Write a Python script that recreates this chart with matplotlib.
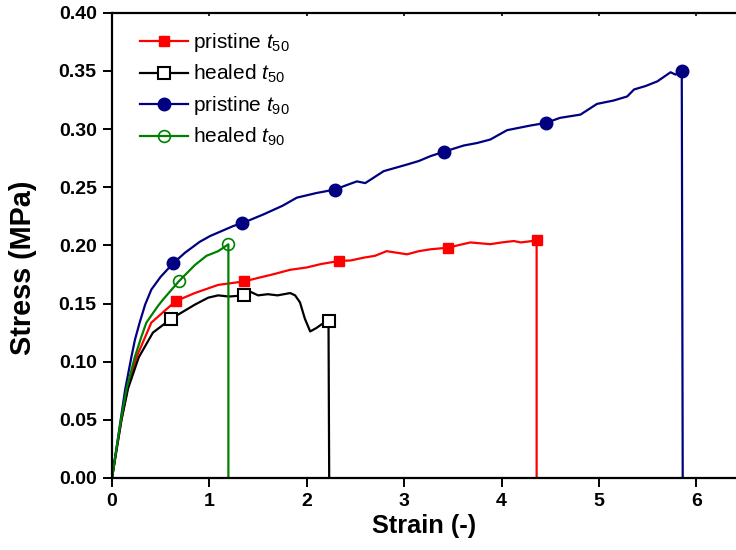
import matplotlib
matplotlib.use("Agg")
import matplotlib.pyplot as plt

plt.rcParams['font.family'] = ['Liberation Sans', 'DejaVu Sans']
plt.rcParams['mathtext.fontset'] = 'custom'
plt.rcParams['mathtext.rm'] = 'Liberation Sans'
plt.rcParams['mathtext.it'] = 'Liberation Sans:italic'

# pristine t50 (red)
p50_strain = [0, 0.048, 0.097, 0.16, 0.25, 0.404, 0.558, 0.654, 0.85, 1.09, 1.357, 1.5,
              1.65, 1.83, 2.0, 2.15, 2.333, 2.45, 2.583, 2.7, 2.82, 3.03, 3.15, 3.27, 3.45,
              3.55, 3.68, 3.885, 4.0, 4.125, 4.2, 4.31, 4.36, 4.36]
p50_stress = [0, 0.025, 0.05, 0.077, 0.1036, 0.1336, 0.145, 0.152, 0.159, 0.166, 0.169,
              0.172, 0.175, 0.179, 0.181, 0.184, 0.1866, 0.187, 0.1894, 0.191, 0.195,
              0.1923, 0.195, 0.1966, 0.198, 0.200, 0.2025, 0.201, 0.2025, 0.2037, 0.2025,
              0.2037, 0.205, 0.0]
p50_marks = [7, 10, 16, 24, 32]

# healed t50 (black)
h50_strain = [0, 0.048, 0.097, 0.165, 0.274, 0.42, 0.61, 0.85, 0.987, 1.09, 1.2, 1.36,
              1.38, 1.5, 1.6, 1.7, 1.83, 1.88, 1.93, 1.98, 2.035, 2.1, 2.15, 2.223, 2.23]
h50_stress = [0, 0.025, 0.05, 0.077, 0.1036, 0.125, 0.137, 0.149, 0.155, 0.157, 0.156,
              0.157, 0.1617, 0.157, 0.158, 0.157, 0.159, 0.157, 0.151, 0.137, 0.126,
              0.129, 0.132, 0.135, 0.0]
h50_marks = [6, 11, 23]

# pristine t90 (blue)
p90_strain = [0, 0.045, 0.089, 0.135, 0.198, 0.236, 0.284, 0.34, 0.404, 0.5, 0.627, 0.75,
              0.90, 1.007, 1.245, 1.336, 1.555, 1.75, 1.898, 2.10, 2.29, 2.40, 2.515, 2.60,
              2.79, 3.03, 3.15, 3.27, 3.405, 3.61, 3.75, 3.885, 4.056, 4.296, 4.457, 4.60,
              4.81, 4.98, 5.15, 5.29, 5.36, 5.48, 5.60, 5.735, 5.786, 5.85, 5.86]
p90_stress = [0, 0.025, 0.05, 0.076, 0.1036, 0.119, 0.1336, 0.149, 0.162, 0.173, 0.1845,
              0.1937, 0.203, 0.208, 0.2166, 0.219, 0.2266, 0.234, 0.241, 0.245, 0.248,
              0.2515, 0.255, 0.2535, 0.2638, 0.2695, 0.2725, 0.2767, 0.2804, 0.2858, 0.288,
              0.291, 0.299, 0.303, 0.3053, 0.3096, 0.3124, 0.3216, 0.3245, 0.328, 0.334,
              0.337, 0.341, 0.3488, 0.3468, 0.350, 0.0]
p90_marks = [10, 15, 20, 28, 34, 45]

# healed t90 (green)
h90_strain = [0, 0.045, 0.092, 0.15, 0.233, 0.30, 0.353, 0.473, 0.52, 0.685, 0.85, 0.97,
              1.09, 1.195, 1.195]
h90_stress = [0, 0.025, 0.05, 0.077, 0.1036, 0.121, 0.1336, 0.148, 0.153, 0.169, 0.183,
              0.191, 0.195, 0.2009, 0.0]
h90_marks = [9, 13]

fig = plt.figure(figsize=(7.36, 5.5), dpi=100)
ax = fig.add_axes([112 / 736, 72 / 550, 1 - 112 / 736, (478 - 12.7) / 550])

lw = 1.6
ax.plot(p50_strain, p50_stress, '-s', color='#ff0000', lw=lw, ms=7, markevery=p50_marks,
        label='pristine $t_{50}$')
ax.plot(h50_strain, h50_stress, '-s', color='black', lw=lw, ms=8, mfc='white', mew=1.5,
        markevery=h50_marks, label='healed $t_{50}$')
ax.plot(p90_strain, p90_stress, '-o', color='#000080', lw=lw, ms=9, markevery=p90_marks,
        label='pristine $t_{90}$')
ax.plot(h90_strain, h90_stress, '-o', color='#008000', lw=lw, ms=8.5, mfc='none', mew=1.2,
        markevery=h90_marks, label='healed $t_{90}$')

ax.set_xlim(0, 6.407)
ax.set_ylim(0, 0.40)
ax.set_xticks(range(7))
ax.set_yticks([i * 0.05 for i in range(9)])
ax.set_yticklabels([f"{i * 0.05:.2f}" for i in range(9)])

ax.spines['right'].set_visible(False)
for s in ['left', 'bottom', 'top']:
    ax.spines[s].set_linewidth(1.6)

ax.tick_params(axis='both', direction='out', length=6.5, width=1.4, labelsize=14)
ax.tick_params(axis='y', pad=4.5)
ax.tick_params(axis='x', pad=4)
for lab in ax.get_xticklabels() + ax.get_yticklabels():
    lab.set_fontweight('bold')

# tiny mirror ticks on the top spine
top = ax.secondary_xaxis('top')
top.set_xticks(range(7))
top.tick_params(direction='in', length=2, width=1.2, labeltop=False)
top.spines['top'].set_visible(False)

ax.set_xlabel('Strain (-)', fontsize=18.3, fontweight='bold', labelpad=3)
ax.set_ylabel('Stress (MPa)', fontsize=20.8, fontweight='bold')
ax.yaxis.set_label_coords(-75 / 624, 0.451)

ax.legend(loc='upper left', bbox_to_anchor=(140 / 736, 1 - 31 / 550),
          bbox_transform=fig.transFigure, frameon=False, fontsize=15, numpoints=1,
          handlelength=2.3, handletextpad=0.25, borderpad=0, borderaxespad=0,
          labelspacing=0.43)

fig.savefig('out.png', dpi=100)
